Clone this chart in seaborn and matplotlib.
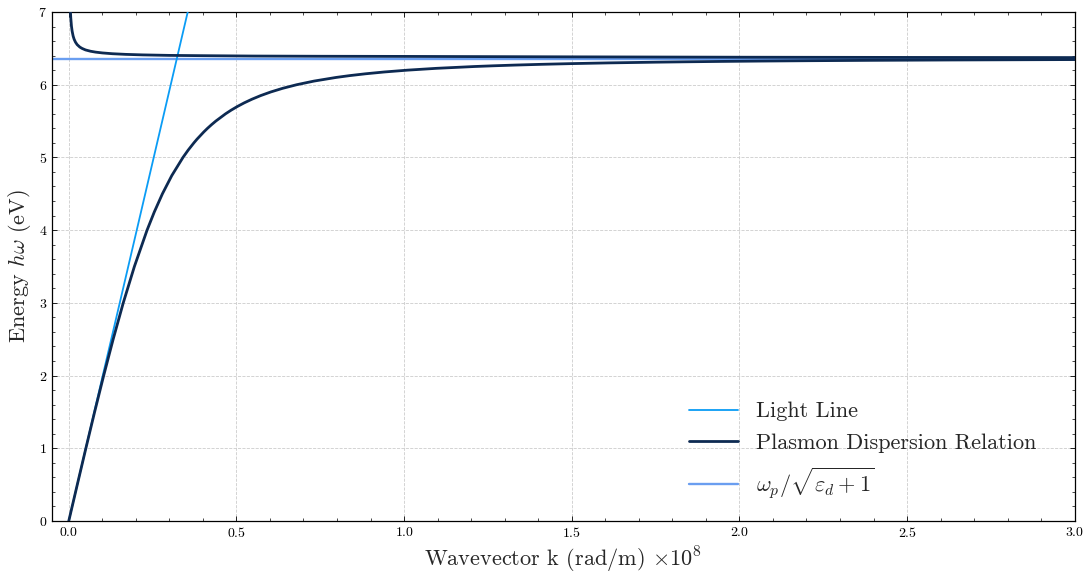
import matplotlib
matplotlib.use("Agg")
import matplotlib.pyplot as plt
from matplotlib.ticker import MultipleLocator
from matplotlib.lines import Line2D
import seaborn as sns
import pandas as pd

# ---- data (k in 1e8 rad/m, energy in eV) ----
light_k = [0.0, 0.40]
light_E = [0.0, 7.893]

lower_k = [0.0, 0.0254, 0.0510, 0.0771, 0.1041, 0.1324, 0.1625, 0.1957, 0.2335,
           0.2551, 0.2793, 0.3072, 0.3406, 0.3560, 0.3731, 0.3823, 0.4026, 0.4137,
           0.4257, 0.4386, 0.4677, 0.4843, 0.5027, 0.5231, 0.5461, 0.5722, 0.6024,
           0.6377, 0.6799, 0.7317, 0.7975, 0.8378, 0.8850, 0.9412, 1.0099, 1.0962,
           1.2097, 1.2662, 1.3314, 1.4081, 1.4998, 1.6122, 1.7547, 1.8418, 1.9433,
           2.0639, 2.2102, 2.3930, 2.6304, 2.9564, 3.1256]
lower_E = [0.0, 0.5, 1.0, 1.5, 2.0, 2.5, 3.0, 3.5, 4.0,
           4.25, 4.5, 4.75, 5.0, 5.1, 5.2, 5.25, 5.35, 5.4,
           5.45, 5.5, 5.6, 5.65, 5.7, 5.75, 5.8, 5.85, 5.9,
           5.95, 6.0, 6.05, 6.1, 6.125, 6.15, 6.175, 6.2, 6.225,
           6.25, 6.26, 6.27, 6.28, 6.29, 6.30, 6.31, 6.315, 6.32,
           6.325, 6.33, 6.335, 6.34, 6.345, 6.347]

upper_k = [0.004, 0.005, 0.006, 0.008, 0.010, 0.013, 0.016, 0.020, 0.025, 0.033,
           0.040, 0.050, 0.065, 0.080, 0.100, 0.130, 0.170, 0.220, 0.300, 0.400,
           0.550, 0.750, 1.000, 1.500, 2.000, 2.500, 3.000]
upper_E = [7.12, 7.00, 6.917, 6.806, 6.737, 6.669, 6.625, 6.585, 6.551, 6.517,
           6.498, 6.478, 6.460, 6.448, 6.437, 6.426, 6.417, 6.410, 6.403, 6.399,
           6.394, 6.391, 6.389, 6.383, 6.378, 6.375, 6.373]

asymptote_E = 6.36

legend_labels = ["Light Line", "Plasmon Dispersion Relation",
                 r"$\omega_p/\sqrt{\varepsilon_d+1}$"]

# ---- style ----
sns.set_style("ticks")
plt.rcParams.update({
    "font.family": ["serif"],
    "font.serif": ["cmr10", "DejaVu Serif"],
    "mathtext.fontset": "cm",
    "axes.formatter.use_mathtext": True,
    "axes.unicode_minus": False,
    "xtick.direction": "in",
    "ytick.direction": "in",
    "xtick.top": True,
    "ytick.right": True,
    "xtick.minor.visible": True,
    "ytick.minor.visible": True,
    "xtick.major.size": 3.5,
    "ytick.major.size": 3.5,
    "xtick.minor.size": 2,
    "ytick.minor.size": 2,
    "xtick.major.width": 0.6,
    "ytick.major.width": 0.6,
    "xtick.minor.width": 0.5,
    "ytick.minor.width": 0.5,
    "axes.linewidth": 0.9,
    "axes.edgecolor": "black",
    "xtick.color": "black",
    "ytick.color": "black",
})

fig = plt.figure(figsize=(10.88, 5.76), dpi=100)
ax = fig.add_axes([0.0478, 0.0955, 0.940, 0.8837])

c_light = "#0a9cf5"
c_plasmon = "#0d2a52"
c_asym = "#6a9ef0"

df_light = pd.DataFrame({"k": light_k, "E": light_E})
df_low = pd.DataFrame({"k": lower_k, "E": lower_E})
df_up = pd.DataFrame({"k": upper_k, "E": upper_E})

ax.axhline(asymptote_E, color=c_asym, lw=1.7, zorder=2)
sns.lineplot(data=df_light, x="k", y="E", ax=ax, color=c_light, lw=1.3,
             sort=False, estimator=None, zorder=3)
sns.lineplot(data=df_low, x="k", y="E", ax=ax, color=c_plasmon, lw=2.0,
             sort=False, estimator=None, zorder=4)
sns.lineplot(data=df_up, x="k", y="E", ax=ax, color=c_plasmon, lw=2.0,
             sort=False, estimator=None, zorder=4)

ax.set_xlim(-0.05, 3.0)
ax.set_ylim(0, 7)
ax.xaxis.set_major_locator(MultipleLocator(0.5))
ax.xaxis.set_minor_locator(MultipleLocator(0.1))
ax.yaxis.set_major_locator(MultipleLocator(1))
ax.yaxis.set_minor_locator(MultipleLocator(0.2))
ax.tick_params(labelsize=10)

ax.grid(True, which="major", linestyle="--", color="#cccccc", lw=0.6)

ax.set_xlabel(r"Wavevector k (rad/m) $\times 10^8$", fontsize=16)
ax.set_ylabel(r"Energy $h\omega$ (eV)", fontsize=16)

handles = [Line2D([], [], color=c_light, lw=1.3),
           Line2D([], [], color=c_plasmon, lw=2.0),
           Line2D([], [], color=c_asym, lw=1.7)]
ax.legend(handles, legend_labels, loc="lower right", frameon=False,
          fontsize=16, handlelength=2.2, handletextpad=0.8, labelspacing=0.55,
          bbox_to_anchor=(0.982, 0.0))

fig.savefig("out.png", dpi=100)
